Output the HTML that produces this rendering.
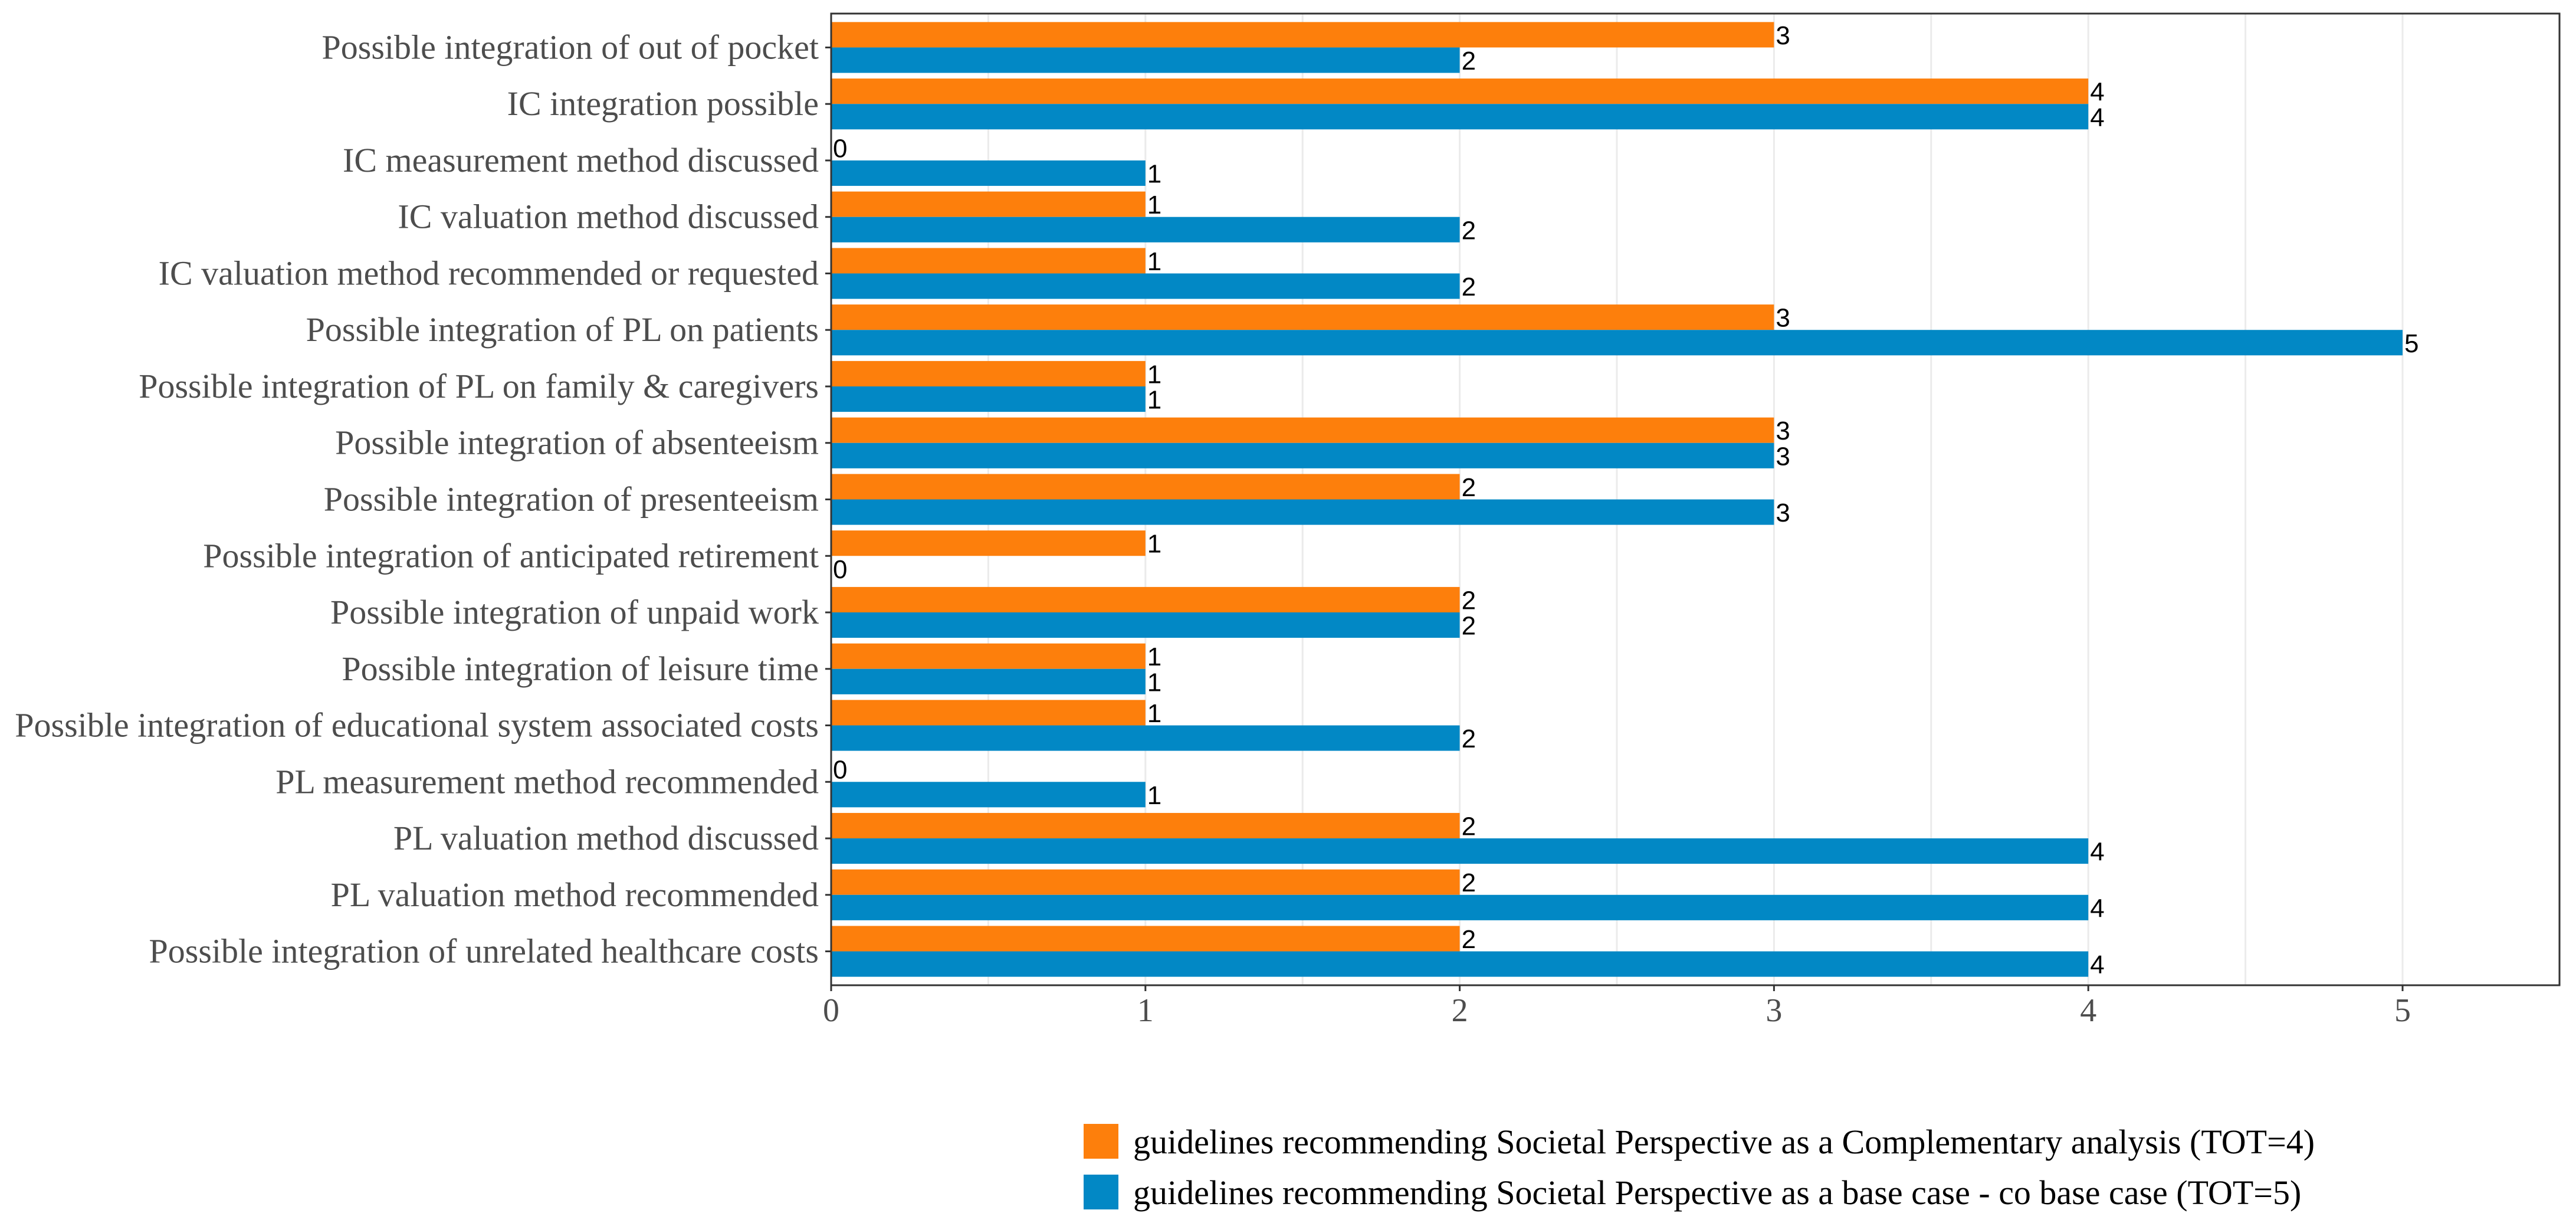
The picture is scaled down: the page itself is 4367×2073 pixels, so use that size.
<!DOCTYPE html>
<html><head><meta charset="utf-8">
<style>
html,body{margin:0;padding:0;background:#fff;}
svg{display:block;}
</style></head>
<body>
<svg id="chart" width="4367" height="2073" viewBox="0 0 4367 2073" xmlns="http://www.w3.org/2000/svg">
<rect x="0" y="0" width="4367" height="2073" fill="#fff"/>
<g id="grid"></g>
<g id="bars"></g>
<g id="vals"></g>
<rect x="1409" y="23" width="2930" height="1647" fill="none" stroke="#333" stroke-width="3"/>
<g id="yaxis"></g>
<g id="xaxis"></g>
<g>
  <rect x="1837" y="1905" width="59" height="59" fill="#FD7F0C"/>
  <text x="1921" y="1955" font-family="Liberation Serif, serif" font-size="58" fill="#000">guidelines recommending Societal Perspective as a Complementary analysis (TOT=4)</text>
  <rect x="1837" y="1991" width="59" height="59" fill="#0288C5"/>
  <text x="1921" y="2041" font-family="Liberation Serif, serif" font-size="58" fill="#000">guidelines recommending Societal Perspective as a base case - co base case (TOT=5)</text>
</g>
</svg>
<script>
const categories = [
"Possible integration of out of pocket",
"IC integration possible",
"IC measurement method discussed",
"IC valuation method discussed",
"IC valuation method recommended or requested",
"Possible integration of PL on patients",
"Possible integration of PL on family & caregivers",
"Possible integration of absenteeism",
"Possible integration of presenteeism",
"Possible integration of anticipated retirement",
"Possible integration of unpaid work",
"Possible integration of leisure time",
"Possible integration of educational system associated costs",
"PL measurement method recommended",
"PL valuation method discussed",
"PL valuation method recommended",
"Possible integration of unrelated healthcare costs"
];
const complementaryValues = [3,4,0,1,1,3,1,3,2,1,2,1,1,0,2,2,2];
const baseCaseValues = [2,4,1,2,2,5,1,3,3,0,2,1,2,1,4,4,4];
const xTicks = [0,1,2,3,4,5];

const NS = "http://www.w3.org/2000/svg";
const X0 = 1409, UNIT = 532.8, TOP = 23, BOTTOM = 1670;
const BAND = (BOTTOM - TOP) / (categories.length + 0.2);
function xScale(v){ return X0 + v * UNIT; }
function yScale(i){ return TOP + (0.6 + i) * BAND; }
const BARH = BAND * 0.45;

function mk(tag, attrs, parent){
  const el = document.createElementNS(NS, tag);
  for (const k in attrs) el.setAttribute(k, attrs[k]);
  parent.appendChild(el);
  return el;
}
const grid = document.getElementById('grid');
for (let v = 0.5; v <= 5.5; v += 0.5) {
  const g = mk('line', {x1: xScale(v), x2: xScale(v), y1: TOP, y2: BOTTOM, stroke: '#ebebeb', 'stroke-width': 3}, grid);
  
  
}
const bars = document.getElementById('bars');
const vals = document.getElementById('vals');
const series = [
  {vals: complementaryValues, color: '#FD7F0C', off: -1, name: 'complementary'},
  {vals: baseCaseValues, color: '#0288C5', off: 0, name: 'base-case'}
];
categories.forEach((c, i) => {
  const yc = yScale(i);
  series.forEach(s => {
    const v = s.vals[i];
    const y = yc + s.off * BARH;
    const r = mk('rect', {x: xScale(0), y: y, width: xScale(v) - xScale(0), height: BARH, fill: s.color}, bars);
    
    
    const t = mk('text', {x: xScale(v) + 3, y: y + BARH / 2 + 16, 'font-family': 'Liberation Sans, sans-serif', 'font-size': 44, fill: '#000'}, vals);
    t.textContent = v;
    
    
  });
});
const yaxis = document.getElementById('yaxis');
categories.forEach((c, i) => {
  const y = yScale(i);
  const tk = mk('line', {x1: X0 - 10, x2: X0, y1: y, y2: y, stroke: '#333', 'stroke-width': 3}, yaxis);
  
  
  const t = mk('text', {x: 1388, y: y + 19, 'text-anchor': 'end', 'font-family': 'Liberation Serif, serif', 'font-size': 58, fill: '#4d4d4d'}, yaxis);
  t.textContent = c;
  
  
});
const xaxis = document.getElementById('xaxis');
xTicks.forEach(v => {
  const x = xScale(v);
  const tk = mk('line', {x1: x, x2: x, y1: BOTTOM, y2: BOTTOM + 10, stroke: '#333', 'stroke-width': 3}, xaxis);
  
  
  const t = mk('text', {x: x, y: 1731, 'text-anchor': 'middle', 'font-family': 'Liberation Serif, serif', 'font-size': 56, fill: '#4d4d4d'}, xaxis);
  t.textContent = v;
  
  
});
</script>
</body></html>
